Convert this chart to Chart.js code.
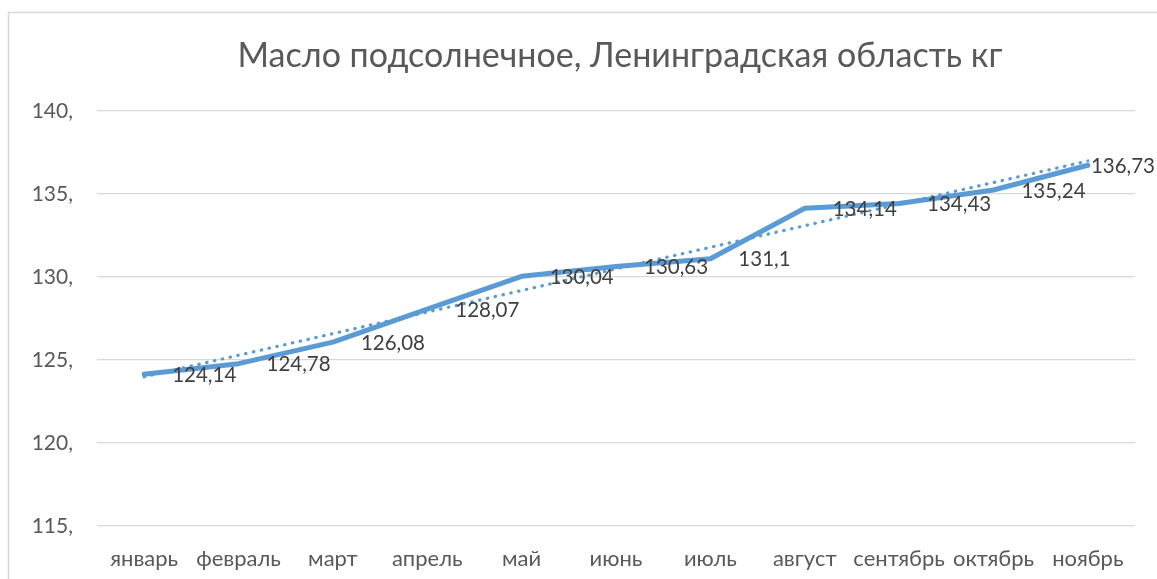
<!DOCTYPE html>
<html>
<head>
<meta charset="utf-8">
<script src="https://cdn.jsdelivr.net/npm/chart.js@4/dist/chart.umd.min.js"></script>
<style>
  html, body { margin: 0; padding: 0; background: #fff; }
  #wrap { width: 1157px; height: 579px; }
</style>
</head>
<body>
<div id="wrap"><canvas id="chart"></canvas></div>
<script>
// monthly prices, sunflower oil
const months = ["январь", "февраль", "март", "апрель", "май", "июнь", "июль", "август", "сентябрь", "октябрь", "ноябрь"];
const prices = [124.14, 124.78, 126.08, 128.07, 130.04, 130.63, 131.1, 134.14, 134.43, 135.24, 136.73];
const yTicks = [115, 120, 125, 130, 135, 140];
const chartTitle = "Масло подсолнечное, Ленинградская область кг";

const BLUE = "#5b9bd5";
const FONT = "Lato, 'Open Sans', sans-serif";

// least-squares linear trend over the series
const linearTrend = (ys) => {
    const n = ys.length;
    const xs = ys.map((_, i) => i + 1);
    const mx = xs.reduce((a, b) => a + b, 0) / n;
    const my = ys.reduce((a, b) => a + b, 0) / n;
    let sxy = 0, sxx = 0;
    xs.forEach((x, i) => {
        sxy += (x - mx) * (ys[i] - my);
        sxx += (x - mx) * (x - mx);
    });
    const slope = sxy / sxx;
    return xs.map(x => my + slope * (x - mx));
};

const fmt = (v) => String(v).replace(".", ",");

// outer frame and the title (title sits a bit right of canvas centre)
const framePlugin = {
    id: "frame",
    beforeDraw(chart) {
        const ctx = chart.ctx;
        ctx.save();
        ctx.fillStyle = "#fff";
        ctx.fillRect(0, 0, chart.width, chart.height);
        ctx.strokeStyle = "#d9d9d9";
        ctx.lineWidth = 1.5;
        ctx.strokeRect(8.5, 12.5, chart.width + 50, chart.height + 50);

        ctx.font = "34px " + FONT;
        ctx.fillStyle = "#595959";
        ctx.textAlign = "center";
        ctx.textBaseline = "alphabetic";
        ctx.fillText(chartTitle, 620, 67);
        ctx.restore();
    }
};

// value labels to the right of each point
const valueLabels = {
    id: "valueLabels",
    afterDatasetsDraw(chart) {
        const ctx = chart.ctx;
        const meta = chart.getDatasetMeta(0);
        ctx.save();
        ctx.font = "20.5px " + FONT;
        ctx.fillStyle = "#404040";
        ctx.textBaseline = "middle";
        ctx.textAlign = "left";
        meta.data.forEach((pt, i) => {
            const txt = fmt(prices[i]);
            const w = ctx.measureText(txt).width;
            const x = Math.min(pt.x + 28, chart.width - w - 2);
            ctx.fillText(txt, x, pt.y + 1);
        });
        ctx.restore();
    }
};

new Chart(document.getElementById("chart"), {
    type: "line",
    data: {
        labels: months,
        datasets: [
            {
                data: prices,
                borderColor: BLUE,
                borderWidth: 5,
                pointRadius: 0,
                tension: 0,
                borderCapStyle: "round",
                borderJoinStyle: "round"
            },
            {
                data: linearTrend(prices),
                borderColor: BLUE,
                borderWidth: 3.2,
                borderDash: [0.5, 7.5],
                borderCapStyle: "round",
                pointRadius: 0,
                tension: 0
            }
        ]
    },
    options: {
        responsive: true,
        maintainAspectRatio: false,
        animation: false,
        layout: { padding: { left: 0, right: 22, top: 111, bottom: 0 } },
        plugins: {
            legend: { display: false },
            tooltip: { enabled: false },
            title: { display: false }
        },
        scales: {
            x: {
                offset: true,
                grid: { display: false },
                border: { display: false },
                ticks: {
                    color: "#595959",
                    font: { family: FONT, size: 22 },
                    padding: 12,
                    maxRotation: 0,
                    autoSkip: false
                },
                afterFit(scale) { scale.height = 53; }
            },
            y: {
                min: 115,
                max: 140,
                afterBuildTicks(scale) {
                    scale.ticks = yTicks.map(v => ({ value: v }));
                },
                grid: { color: "#d9d9d9", lineWidth: 1.3, drawTicks: false },
                border: { display: false },
                ticks: {
                    color: "#595959",
                    font: { family: FONT, size: 21 },
                    padding: 24,
                    callback: (v) => v + ","
                },
                afterFit(scale) { scale.width = 97; }
            }
        }
    },
    plugins: [framePlugin, valueLabels]
});
</script>
</body>
</html>
